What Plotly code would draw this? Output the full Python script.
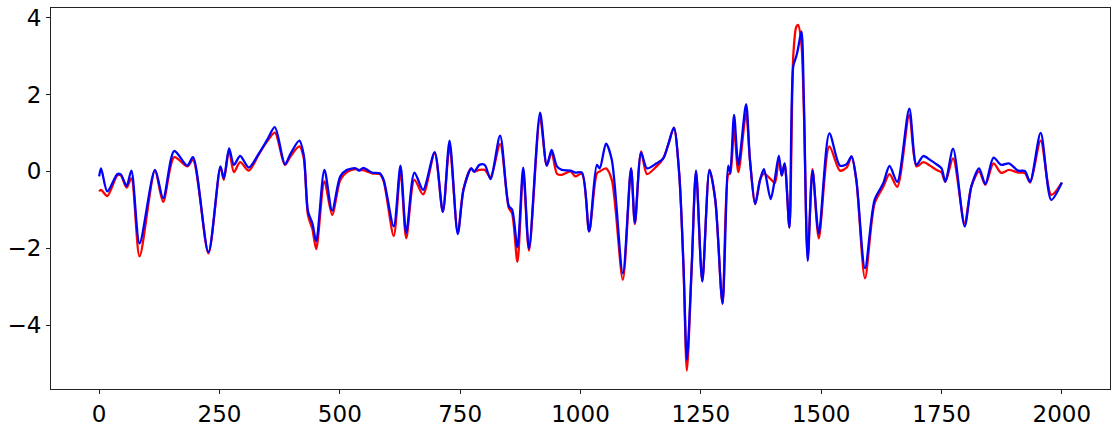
import plotly.graph_objects as go

# sample positions, with both series estimated at each
x_pos = [
    0, 4, 17, 38, 45, 57, 67, 84, 116, 133, 156, 183, 195, 227, 252, 259, 270, 280, 293, 311,
    332, 349, 365, 386, 398, 416, 425, 434, 443, 451, 468, 484, 501, 515, 533, 540, 549, 567, 583, 591,
    612, 626, 638, 655, 673, 697, 714, 728, 745, 757, 773, 779, 790, 801, 813, 833, 851, 858, 869, 881,
    893, 916, 930, 940, 951, 961, 979, 989, 1003, 1018, 1034, 1040, 1053, 1065, 1088, 1105, 1113, 1126, 1138, 1158,
    1172, 1183, 1194, 1205, 1214, 1221, 1231, 1240, 1253, 1268, 1280, 1295, 1307, 1311, 1319, 1328, 1344, 1352, 1363, 1373,
    1381, 1395, 1404, 1412, 1418, 1424, 1434, 1442, 1448, 1452, 1459, 1464, 1472, 1482, 1495, 1517, 1539, 1553, 1563, 1573,
    1591, 1611, 1629, 1642, 1658, 1683, 1698, 1712, 1726, 1739, 1750, 1758, 1774, 1798, 1812, 1828, 1841, 1858, 1874, 1890,
    1909, 1923, 1934, 1956, 1978, 2000,
]

blue_vals = [
    -0.13, 0.08, -0.52, -0.07, -0.08, -0.38, 0.02, -1.87, 0.04, -0.70, 0.53, 0.15, 0.37, -2.10, 0.13, -0.18, 0.60, 0.17, 0.40, 0.10,
    0.47, 0.82, 1.15, 0.19, 0.47, 0.80, 0.43, -1.05, -1.35, -1.82, 0.04, -1.02, -0.13, 0.04, 0.08, 0.02, 0.09, -0.03, -0.05, -0.22,
    -1.43, 0.15, -1.60, -0.03, -0.48, 0.50, -1.05, 0.80, -1.63, -0.48, 0.08, -0.01, 0.17, 0.17, -0.20, 0.93, -0.90, -1.00, -1.97, 0.10,
    -2.00, 1.53, 0.15, 0.56, 0.13, 0.04, 0.02, -0.03, -0.03, -1.56, 0.17, 0.08, 0.72, 0.30, -2.65, 0.08, -1.33, 0.49, 0.08, 0.21,
    0.34, 0.73, 1.14, -0.05, -2.47, -4.90, -2.47, 0.02, -2.86, 0.04, -0.74, -3.43, 0.15, -0.05, 1.47, 0.17, 1.75, 0.30, -0.85, -0.22,
    0.06, -0.72, -0.18, 0.41, -0.11, 0.21, -1.46, 2.73, 2.98, 3.20, 3.64, 1.86, -2.33, 0.02, -1.61, 0.99, 0.15, 0.19, 0.39, -0.22,
    -2.52, -0.74, -0.31, 0.14, -0.27, 1.63, 0.17, 0.40, 0.30, 0.19, 0.08, -0.27, 0.59, -1.43, -0.39, 0.08, -0.33, 0.36, 0.17, 0.21,
    0.02, 0.01, -0.27, 1.00, -0.74, -0.29,
]

red_vals = [
    -0.52, -0.48, -0.64, -0.10, -0.10, -0.42, -0.18, -2.21, 0.02, -0.79, 0.37, 0.13, 0.30, -2.13, 0.10, -0.22, 0.55, -0.02, 0.24, 0.02,
    0.45, 0.78, 1.01, 0.17, 0.40, 0.65, 0.35, -1.15, -1.50, -2.02, -0.26, -1.13, -0.22, -0.02, 0.06, 0.04, 0.03, -0.05, -0.07, -0.25,
    -1.68, 0.00, -1.74, -0.22, -0.60, 0.47, -1.05, 0.65, -1.60, -0.45, 0.08, 0.00, 0.04, 0.04, -0.14, 0.71, -0.95, -1.10, -2.35, -0.05,
    -2.06, 1.38, 0.15, 0.50, -0.06, -0.09, 0.00, -0.13, -0.06, -1.56, -0.05, 0.00, 0.08, -0.22, -2.82, 0.08, -1.37, 0.52, -0.07, 0.13,
    0.34, 0.73, 1.14, -0.05, -2.50, -5.18, -2.50, 0.00, -2.86, 0.04, -0.74, -3.45, -0.08, -0.05, 1.10, -0.02, 1.51, 0.30, -0.85, -0.22,
    -0.06, -0.20, -0.30, 0.35, -0.10, 0.21, -1.46, 3.00, 3.75, 3.81, 3.30, 1.60, -2.25, 0.06, -1.74, 0.65, 0.02, 0.10, 0.39, -0.22,
    -2.78, -0.83, -0.40, -0.07, -0.40, 1.47, 0.13, 0.24, 0.15, 0.04, -0.03, -0.27, 0.34, -1.35, -0.39, 0.00, -0.35, 0.21, -0.04, 0.04,
    -0.03, -0.04, -0.29, 0.80, -0.61, -0.29,
]

x_ticks = [0, 250, 500, 750, 1000, 1250, 1500, 1750, 2000]
y_ticks = [-4, -2, 0, 2, 4]

fig = go.Figure()
fig.add_trace(go.Scatter(x=x_pos, y=red_vals, mode="lines", name="red",
                         line=dict(color="#ff0000", width=2.3, shape="spline", smoothing=0.8)))
fig.add_trace(go.Scatter(x=x_pos, y=blue_vals, mode="lines", name="blue",
                         line=dict(color="#0000ff", width=2.3, shape="spline", smoothing=0.8)))

axis_style = dict(
    showgrid=False, zeroline=False, showline=True, mirror=True, automargin=False,
    linecolor="#222222", linewidth=1, ticks="outside", ticklen=4,
    tickcolor="#222222", tickfont=dict(family="DejaVu Sans, sans-serif", size=23, color="black"),
)
fig.update_xaxes(range=[-100, 2100], tickvals=x_ticks, **axis_style)
fig.update_yaxes(range=[-5.66, 4.25], tickvals=y_ticks, **axis_style)
fig.update_layout(
    width=1116, height=427,
    margin=dict(l=51, r=6, t=8, b=38),
    plot_bgcolor="white", paper_bgcolor="white",
    showlegend=False,
    font=dict(family="DejaVu Sans, sans-serif"),
)
# page body has a default 8px margin; drop it so the figure sits at the corner
fig.write_html("out.html", config={"displayModeBar": False},
               post_script="document.body.style.margin='0';")
